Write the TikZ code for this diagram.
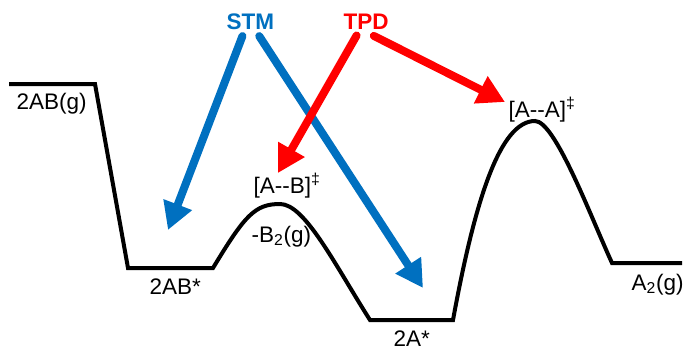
\documentclass[tikz,border=0pt]{standalone}
\usepackage{fontspec}
\setmainfont{Liberation Sans}
\usetikzlibrary{arrows.meta}
\definecolor{stmblue}{RGB}{0,112,192}
\definecolor{tpdred}{RGB}{255,0,0}
\tikzset{
  profile/.style={line width=0.1cm},
  lab/.style={font=\fontsize{16}{19}\selectfont, inner sep=1pt, anchor=base west},
  probe/.style={font=\fontsize{16}{19}\selectfont\bfseries, inner sep=1pt, anchor=base west},
  fat/.style={line width=0.2cm, line cap=round, -{Triangle[length=0.68cm,width=0.72cm]}},
}

\begin{document}
\begin{tikzpicture}[x=0.025cm, y=-0.025cm]
    \useasboundingbox (0,0) rectangle (690,349);

    % Energy profile
    \draw[profile] (9,84) -- (95,84) -- (128,268) -- (213,268)
        .. controls (245,215) and (255,204) .. (280,204)
        .. controls (305,204) and (335,265) .. (370,320) -- (453,320)
        .. controls (475,200) and (500,121) .. (535,121)
        .. controls (555,121) and (590,215) .. (612,263) -- (682,263);

    % State labels
    \node[lab] (gas) at (15,109) {2AB(g)};
    \node[lab] (ads) at (148,294) {2AB*};
    \node[lab] (tsab) at (252,193) {[A-{}-B]\textsuperscript{\ddag}};
    \node[lab] (desorb) at (250,242) {-B\textsubscript{2}(g)};
    \node[lab] (atoms) at (392,346) {2A*};
    \node[lab] (tsaa) at (507,117) {[A-{}-A]\textsuperscript{\ddag}};
    \node[lab] (prod) at (630,290) {A\textsubscript{2}(g)};

    % Probes
    \node[probe, stmblue] (stm) at (225,29) {STM};
    \node[probe, tpdred] (tpd) at (342,29) {TPD};

    % Arrow tips
    \coordinate (tipads) at (168,230);
    \coordinate (tipa) at (423,288);
    \coordinate (tipab) at (278,173);
    \coordinate (tipaa) at (505,102);

    % STM arrows
    \draw[fat, stmblue] ([xshift=-0.2cm,yshift=-0.13cm]stm.south) -- (tipads);
    \draw[fat, stmblue] ([xshift=0.22cm,yshift=-0.13cm]stm.south) -- (tipa);

    % TPD arrows
    \draw[fat, tpdred] ([xshift=-0.24cm,yshift=-0.12cm]tpd.south) -- (tipab);
    \draw[fat, tpdred] ([xshift=0.19cm,yshift=-0.13cm]tpd.south) -- (tipaa);
\end{tikzpicture}
\end{document}
